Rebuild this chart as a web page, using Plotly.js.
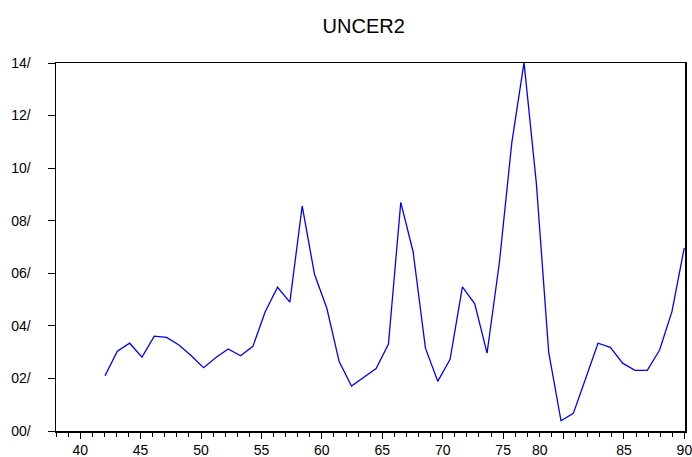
<!DOCTYPE html>
<html>
<head>
<meta charset="utf-8">
<script src="https://cdn.plot.ly/plotly-3.0.1.min.js"></script>
<style>html,body{margin:0;padding:0;background:#fff;}#chart{width:692px;height:457px;}</style>
</head>
<body>
<div id="chart"></div>
<script>
// Observations (48 annual points)
const obsIndex = [42,43,44,45,46,47,48,49,50,51,52,53,54,55,56,57,58,59,60,61,62,63,64,65,
                  66,67,68,69,70,71,72,73,74,75,76,77,78,79,80,81,82,83,84,85,86,87,88,89];
const uncer2 = [0.0210,0.0304,0.0334,0.0281,0.0361,0.0356,0.0327,0.0286,0.0241,0.0280,0.0312,0.0286,
                0.0322,0.0454,0.0547,0.0490,0.0856,0.0596,0.0467,0.0264,0.0171,0.0205,0.0238,0.0331,
                0.0870,0.0682,0.0315,0.0189,0.0273,0.0548,0.0484,0.0296,0.0641,0.1094,0.1402,0.0942,
                0.0300,0.0039,0.0067,0.0200,0.0334,0.0318,0.0258,0.0231,0.0231,0.0308,0.0454,0.0697];
// Axis tick labels
const xTickVals = [40,45,50,55,60,65,70,75,80,85,90];
const xTickText = ["40","45","50","55","60","65","70","75","","85","90"];
const yTickVals = [0,0.02,0.04,0.06,0.08,0.10,0.12,0.14];
const yTickText = ["00/","02/","04/","06/","08/","10/","12/","14/"];

const font = {family: "Liberation Sans, Arial, sans-serif", color: "#000"};

const trace = {
  x: obsIndex, y: uncer2, type: "scatter", mode: "lines",
  xaxis: "x2", yaxis: "y",
  line: {color: "#0000ff", width: 1.3}, hoverinfo: "skip"
};

const layout = {
  width: 692, height: 457,
  margin: {l: 56, r: 7, t: 63, b: 26, pad: 0},
  paper_bgcolor: "#fff", plot_bgcolor: "#fff",
  showlegend: false,
  title: {text: "UNCER2", font: Object.assign({size: 20}, font),
          xref: "container", yref: "container", x: 0.5256, y: 0.944, xanchor: "center", yanchor: "middle"},
  xaxis: {
    range: [38.0, 90.05], showgrid: false, zeroline: false,
    tickmode: "array", tickvals: xTickVals, ticktext: xTickText,
    ticks: "outside", ticklen: 6, tickwidth: 1, tickcolor: "#000",
    minor: {dtick: 1, tick0: 38, ticks: "outside", ticklen: 4, tickwidth: 1, tickcolor: "#000", showgrid: false},
    showline: true, linecolor: "#000", linewidth: 1.5, mirror: true,
    tickfont: Object.assign({size: 14}, font), ticklabelstandoff: 0,
    ticklabeloverflow: "allow"
  },
  xaxis2: {
    range: [38.025, 89.06], overlaying: "x", visible: false, showgrid: false, zeroline: false
  },
  yaxis: {
    range: [0, 0.14], showgrid: false, zeroline: false,
    tickmode: "array", tickvals: yTickVals, ticktext: yTickText,
    ticks: "outside", ticklen: 7, tickwidth: 1, tickcolor: "#000",
    showline: true, linecolor: "#000", linewidth: 1.5, mirror: true,
    tickfont: Object.assign({size: 14}, font), ticklabelstandoff: 14
  },
  annotations: [{
    text: "80", xref: "x", yref: "paper", x: 78.05, y: 0, yshift: -9,
    xanchor: "center", yanchor: "top", showarrow: false,
    font: Object.assign({size: 14}, font)
  }]
};

Plotly.newPlot("chart", [trace], layout, {staticPlot: true, displayModeBar: false});
</script>
</body>
</html>
